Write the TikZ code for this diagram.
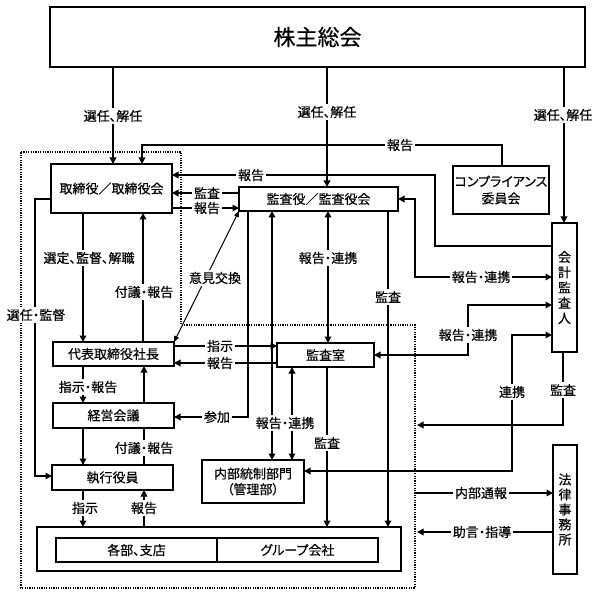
\documentclass[tikz,border=0pt]{standalone}
\usepackage{fontspec}
\setmainfont{Noto Sans CJK JP}[FakeBold=0.4]
\newfontfamily\propfont{Noto Sans CJK JP}[RawFeature=+palt,FakeBold=0.4]
\usetikzlibrary{arrows.meta,calc}
\begin{document}
\begin{tikzpicture}[x=1pt,y=-1pt,
  box/.style={draw,line width=1.2pt,inner sep=0pt,outer sep=0pt,align=center,font=\fontsize{13}{15}\selectfont},
  lbl/.style={fill=white,inner sep=2pt,font=\propfont\fontsize{13}{15}\selectfont},
  conn/.style={line width=1.8pt},
  arr/.style={conn,-{Triangle[length=6.5pt,width=6.5pt]}},
  barr/.style={conn,{Triangle[length=6.5pt,width=6.5pt]}-{Triangle[length=6.5pt,width=6.5pt]}},
  thinbarr/.style={line width=1pt,{Triangle[length=6pt,width=5pt]}-{Triangle[length=6pt,width=5pt]}},
  boundary/.style={line width=1.3pt,dash pattern=on 1.2pt off 1.2pt}
]
\useasboundingbox (0,0) rectangle (600,596);

% boxes
\node[box,minimum width=535pt,minimum height=60pt,font=\fontsize{22}{26}\selectfont] (soukai) at (317.5,37) {株主総会};
\node[box,minimum width=121pt,minimum height=49pt] (tori) at (111.5,188.5) {取締役／取締役会};
\node[box,minimum width=159pt,minimum height=24pt] (kansa) at (318.5,199) {監査役／監査役会};
\node[box,minimum width=96pt,minimum height=48pt,font=\propfont\fontsize{13}{17}\selectfont] (comp) at (501,190) {コンプライアンス\\委員会};
\node[box,minimum width=25pt,minimum height=129pt,font=\fontsize{13}{15.3}\selectfont] (kaikei) at (564.5,287.5) {会\\計\\監\\査\\人};
\node[box,minimum width=24pt,minimum height=129pt,font=\fontsize{13}{15}\selectfont] (houritsu) at (565,509.5) {法\\律\\事\\務\\所};
\node[box,minimum width=121pt,minimum height=24pt] (daihyo) at (113.5,354) {代表取締役社長};
\node[box,minimum width=121pt,minimum height=25pt] (keiei) at (113.5,415.5) {経営会議};
\node[box,minimum width=121pt,minimum height=25pt] (shikkou) at (112.5,477.5) {執行役員};
\node[box,minimum width=97pt,minimum height=24pt] (shitsu) at (325.5,355) {監査室};
\node[box,minimum width=102pt,minimum height=43pt,font=\propfont\fontsize{13}{15.7}\selectfont] (naibu) at (253,481.5) {内部統制部門\\（管理部）};
\node[box,minimum width=364pt,minimum height=44pt] (outer) at (219,549) {};
\node[box,minimum width=161pt,minimum height=24pt,font=\propfont\fontsize{13}{15}\selectfont] (kakubu) at (136.5,550) {各部、支店};
\node[box,minimum width=161pt,minimum height=24pt,font=\propfont\fontsize{13}{15}\selectfont] (group) at (297.5,550) {グループ会社};

% company boundary
\draw[boundary] (21,152) -- (181,152) -- (181,325) -- (415,325) -- (415,588) -- (21,588) -- cycle;
\coordinate (co1) at (417,425);
\coordinate (co2) at (415,493);
\coordinate (co3) at (417,532);

% connectors
\draw[arr] (soukai.south -| 113,0) -- (tori.north -| 113,0);
\draw[arr] (soukai.south -| 327,0) -- (kansa.north -| 327,0);
\draw[arr] (soukai.south -| 564,0) -- (kaikei.north -| 564,0);
\draw[arr] (comp.north -| 502,0) -- (502,145) -- (142,145) -- (tori.north -| 142,0);
\draw[arr] (kaikei.west |- 0,246) -- (435,246) -- (435,175) -- (tori.east |- 0,175);
\draw[arr] (kansa.west |- 0,193) -- (tori.east |- 0,193);
\draw[arr] (tori.east |- 0,208) -- (kansa.west |- 0,208);
\draw[barr] (kansa.east |- 0,199) -- (415,199) -- (415,277) -- (kaikei.west |- 0,277);
\draw[barr] (shitsu.east |- 0,355) -- (468,355) -- (468,305) -- (kaikei.west |- 0,305);
\draw[barr] (naibu.east |- 0,471) -- (512,471) -- (512,335) -- (kaikei.west |- 0,335);
\draw[arr] (kaikei.south -| 563,0) -- (563,425) -- (co1);
\draw[arr] (co2) -- (houritsu.west |- co2);
\draw[arr] (houritsu.west |- co3) -- (co3);
\draw[arr] (tori.west |- 0,199) -- (35,199) -- (35,476) -- (shikkou.west |- 0,476);
\draw[arr] (tori.south -| 83,0) -- (daihyo.north -| 83,0);
\draw[arr] (daihyo.north -| 143,0) -- (tori.south -| 143,0);
\draw[thinbarr] (daihyo.north east) -- (kansa.south west);
\draw[arr] (daihyo.east |- 0,346) -- (shitsu.west |- 0,346);
\draw[arr] (shitsu.west |- 0,363) -- (daihyo.east |- 0,363);
\draw[arr] (kansa.south -| 248,0) -- (248,417) -- (keiei.east |- 0,417);
\draw[barr] (kansa.south -| 272,0) -- (naibu.north -| 272,0);
\draw[barr] (shitsu.south -| 292,0) -- (naibu.north -| 292,0);
\draw[barr] (kansa.south -| 328,0) -- (shitsu.north -| 328,0);
\draw[arr] (kansa.south -| 388,0) -- (outer.north -| 388,0);
\draw[arr] (shitsu.south -| 327,0) -- (outer.north -| 327,0);
\draw[arr] (daihyo.south -| 83,0) -- (keiei.north -| 83,0);
\draw[arr] (keiei.north -| 144,0) -- (daihyo.south -| 144,0);
\draw[arr] (keiei.south -| 83,0) -- (shikkou.north -| 83,0);
\draw[conn] (shikkou.north -| 144,0) -- (keiei.south -| 144,0);
\draw[arr] (shikkou.south -| 83,0) -- (outer.north -| 83,0);
\draw[arr] (outer.north -| 144,0) -- (shikkou.south -| 144,0);

% labels
\node[lbl] (l1) at (113,116) {選任、解任};
\node[lbl] (l2) at (327,112) {選任、解任};
\node[lbl] (l3) at (563,115) {選任、解任};
\node[lbl] (l4) at (400,145) {報告};
\node[lbl] (l5) at (251,175) {報告};
\node[lbl] (l6) at (207,193) {監査};
\node[lbl] (l7) at (207,208) {報告};
\node[lbl] (l8) at (481,277) {報告・連携};
\node[lbl] (l9) at (468,335) {報告・連携};
\node[lbl] (l10) at (512,392) {連携};
\node[lbl] (l11) at (563,390) {監査};
\node[lbl] (l12) at (481,493) {内部通報};
\node[lbl] (l13) at (482,532) {助言・指導};
\node[lbl] (l14) at (36,315) {選任・監督};
\node[lbl] (l15) at (89,258) {選定、監督、解職};
\node[lbl] (l16) at (144,292) {付議・報告};
\node[lbl] (l17) at (215,278) {意見交換};
\node[lbl] (l18) at (220,346) {指示};
\node[lbl] (l19) at (220,363) {報告};
\node[lbl] (l20) at (217,417) {参加};
\node[lbl] (l21) at (285,423) {報告・連携};
\node[lbl] (l22) at (328,258) {報告・連携};
\node[lbl] (l23) at (388,297) {監査};
\node[lbl] (l24) at (327,443) {監査};
\node[lbl] (l25) at (88,387) {指示・報告};
\node[lbl] (l26) at (144,448) {付議・報告};
\node[lbl] (l27) at (85,508) {指示};
\node[lbl] (l28) at (144,508) {報告};
\end{tikzpicture}
\end{document}
